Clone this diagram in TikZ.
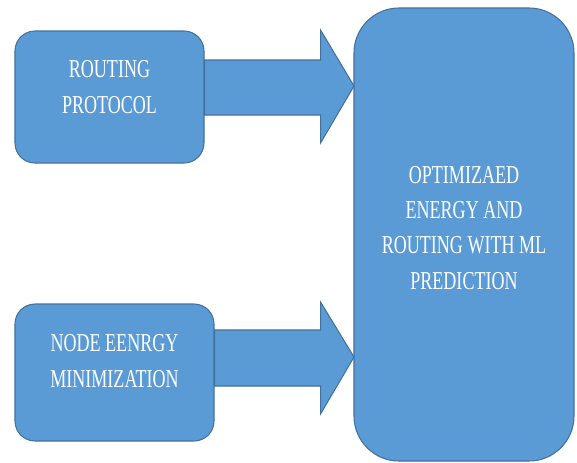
\documentclass[tikz,border=0pt]{standalone}
\usepackage{fontspec}
\setmainfont{Liberation Serif}[FakeStretch=0.7]
\usetikzlibrary{calc}
\definecolor{boxfill}{HTML}{5B9BD5}
\definecolor{boxline}{HTML}{41719C}
\begin{document}
\begin{tikzpicture}[x=0.03cm,y=-0.03cm,line width=0.9pt,
blockbox/.style={draw=boxline,fill=boxfill,rectangle,inner sep=0pt},
blockarrow/.style={draw=boxline,fill=boxfill,line join=miter},
boxtext/.style={text=white,align=center,font=\fontsize{22}{31}\selectfont}]

\useasboundingbox (0,0) rectangle (577,462);

\draw (109.5,97) node[blockbox,rounded corners=0.6cm,minimum width=5.67cm,minimum height=3.96cm] (rp) {};
\draw (114.5,372.5) node[blockbox,rounded corners=0.6cm,minimum width=5.97cm,minimum height=4.11cm] (ne) {};

% block arrows into the result box
\draw[blockarrow] ($(rp.east)+(0,-37)$) -- ++(116,0) -- ++(0,-30) -- (354,86) -- ($(rp.east)+(116,46)$) -- ++(0,-28) -- ($(rp.east)+(0,18)$) -- cycle;
\draw[blockarrow] ($(ne.east)+(0,-42.5)$) -- ++(106,0) -- ++(0,-28) -- (354,357) -- ($(ne.east)+(106,41.5)$) -- ++(0,-28) -- ($(ne.east)+(0,13.5)$) -- cycle;

\draw (464,234.5) node[blockbox,rounded corners=1.35cm,minimum width=6.6cm,minimum height=13.59cm] (opt) {};

\draw (109.5,87) node[boxtext] (rptext) {ROUTING\\PROTOCOL};
\draw (114.5,361) node[boxtext] (netext) {NODE EENRGY\\MINIMIZATION};
\draw (464,228) node[boxtext,font=\fontsize{22}{30}\selectfont] (opttext) {OPTIMIZAED\\ENERGY AND\\ROUTING WITH ML\\PREDICTION};

\end{tikzpicture}
\end{document}
